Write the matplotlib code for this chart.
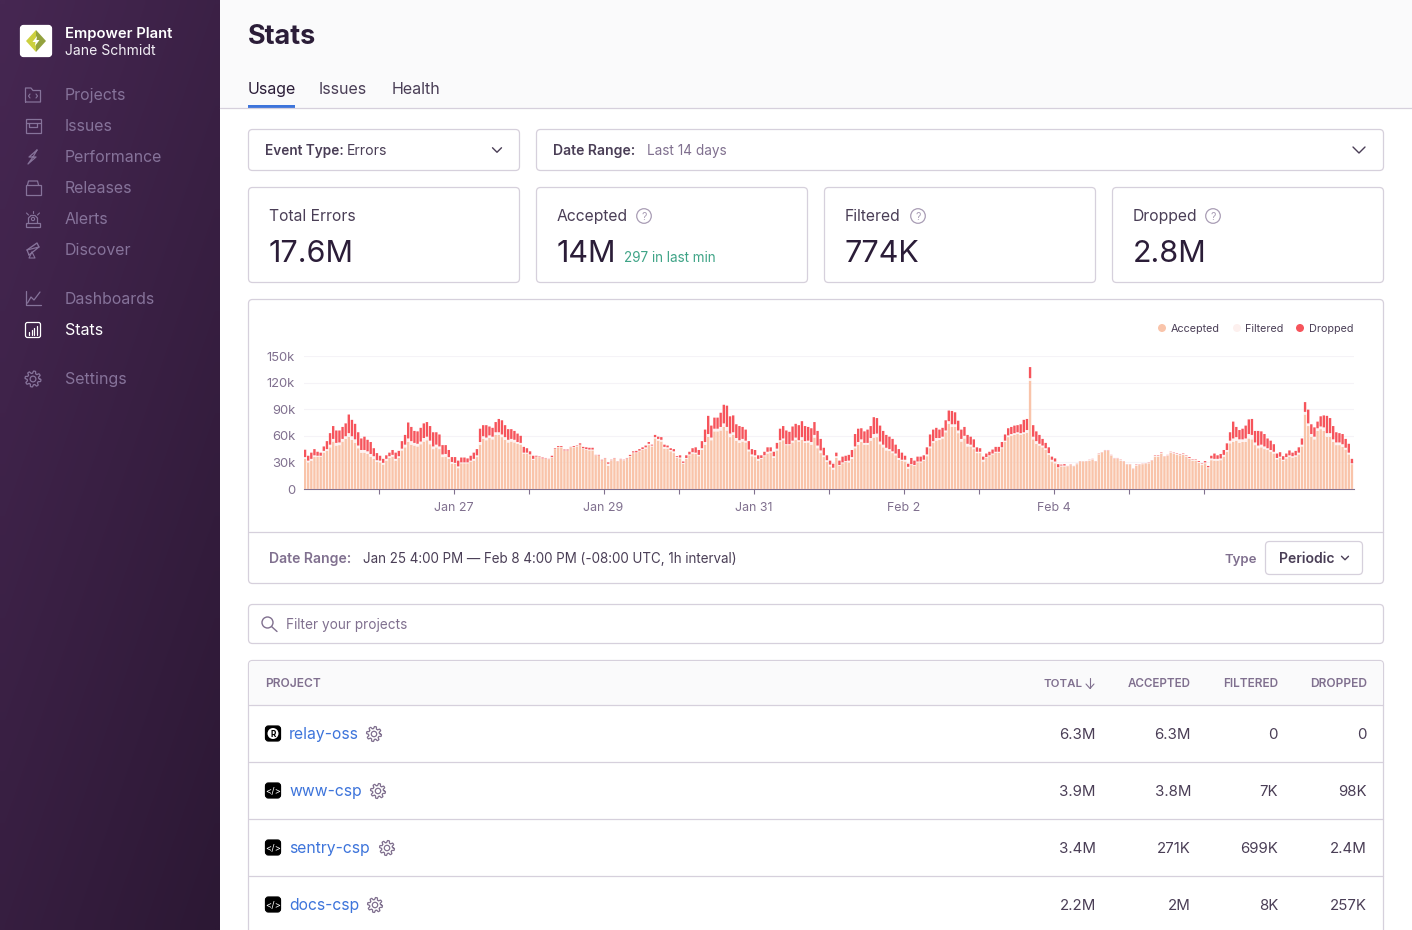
import numpy as np
import matplotlib
matplotlib.use('Agg')
from matplotlib import pyplot as plt
from matplotlib.patches import FancyBboxPatch, Rectangle, Circle, Polygon

# hourly values in thousands, one row per 24 bars
accepted = [
    34, 30, 32, 36, 36.5, 36.5, 41, 43, 47, 53.5, 49, 49.5, 53.5, 56.5, 59, 55.5, 52, 46, 41, 41, 39.5, 36.5, 34, 30.5,
    30, 27.5, 32, 35, 36.5, 32, 35, 43.5, 47, 53, 50, 49, 48, 50.5, 53.5, 55, 50.5, 45, 47, 45, 36, 36.5, 34, 28.5,
    28.5, 23.5, 29, 29, 29, 31, 32, 36, 50, 56.5, 55, 57.5, 56, 61, 61, 58.5, 55.5, 52.5, 53.5, 52.5, 51, 50, 40, 40,
    38, 33, 36, 36, 34, 34, 33.5, 35.5, 45, 47, 47, 43, 43, 47, 47, 48, 49.5, 45.5, 44, 43.5, 43.5, 38, 37.5, 32,
    34, 26, 32, 34, 31, 33, 32, 34, 36.5, 40.5, 40.5, 42.5, 44, 45.5, 49.5, 48, 57, 54.5, 53.5, 45.5, 45.5, 42.5, 40.5, 35,
    34.5, 28.5, 34, 38, 40, 39.5, 37, 44, 50, 59, 55, 65, 65, 66, 70, 66, 58.5, 61, 54.5, 52, 53.5, 52.5, 42.5, 37,
    36, 32, 34, 37, 40, 41, 35, 43.5, 53.5, 55, 49.5, 49.5, 52.5, 55.5, 53.5, 55.5, 52, 52.5, 50, 58, 46, 40.5, 36, 30.5,
    25.5, 22, 35, 26, 29, 30.5, 30, 34, 46, 50, 53, 50, 50, 54.5, 58, 58.5, 50.5, 47, 43.5, 43, 40.5, 38, 33, 32,
    31, 23, 27, 26, 30, 30, 32, 37, 46, 52, 54.5, 55.5, 57, 64, 73.5, 70, 70, 63, 53.5, 57, 48, 48, 45, 40.5,
    40.5, 31, 35, 37, 39, 41, 41, 46, 53, 58.5, 60, 61, 62, 61, 62, 63.5, 122, 56, 51, 49, 47, 44, 38.5, 31,
    29, 23.5, 25.5, 25.5, 25.5, 27, 25.5, 28, 31, 31, 31, 32, 33, 31, 39, 41, 43, 43, 37.5, 34, 34, 32, 31, 27.5,
    27.5, 22.5, 26, 27, 28, 28.5, 29, 32, 36.5, 36.5, 40, 36.5, 37.5, 41, 39.5, 38.5, 38, 38.5, 36.5, 34, 32, 32, 29.5, 27,
    29, 23.5, 32.5, 32, 32, 32.5, 36.5, 42, 51.5, 53, 54.5, 52, 53, 53, 57, 56, 49.5, 46, 47, 45, 44, 42, 40, 33.5,
    35, 31.5, 34.5, 36.5, 35.5, 36.5, 39, 48, 84, 71, 59, 56, 65.5, 67.5, 65.5, 59, 59, 53, 49.5, 49.5, 47.5, 44.5, 39, 28,
]
filtered = [
    2, 2, 2, 2, 1, 1, 2, 2, 3, 3, 3, 3, 3, 3, 4, 4, 4, 3, 3, 3, 3, 3, 3, 2,
    2, 2, 2, 2, 2, 2, 2, 2, 3, 4, 4, 3, 3, 3, 4, 4, 4, 3, 3, 3, 3, 3, 2, 2,
    1, 2, 1, 1, 1, 1, 2, 2, 3, 3, 3, 3, 3, 3, 3, 3, 3, 3, 3, 3, 2, 2, 1, 1,
    1, 1, .5, .5, .5, .5, .2, .5, .3, .5, .5, .5, .5, .2, .5, .5, .5, .5, 1, 1, 1, .2, .3, .3,
    .5, 2.5, .5, .5, .2, .5, .5, .5, .7, .7, .8, .8, 1, 1.5, 1.5, 1, 1.5, 2, 2, 2, 1.5, 1.5, 2, 1,
    1, 1, 1, 1, 1.5, 1.5, 1.5, 2, 3, 3, 3, 3, 3, 4, 4, 4, 4, 3, 3, 3, 3, 2, 2, 2,
    2, 2, 1, 1, 2, 1.5, 2, 2, 1.5, 2, 1, 1, 2, 2.5, 1.5, 3, 2, 2, 3, 3, 3, 3, 2, 2,
    2, 2, 2, 1, 1, 1, 2, 2, 2, 3, 3, 2, 2, 3, 4, 4, 3, 3, 3, 2, 2, 2, 2, 1,
    2, 2, 1, 1, 1, 1, 1, 2, 2, 2, 3, 2, 2, 2, 3, 3, 3, 3, 3, 3, 3, 2, 2, 1.5,
    1.5, 2, 1, 1, 1, 1, 1, 1, 1.5, 2, 2, 2, 2, 2, 2, 3, 3, 3, 3, 2, 2, 2, 2, 2,
    2, 1, 1, 1, .3, .7, .3, .3, .3, .1, .3, .8, .7, .3, .7, .3, .7, .7, .7, .7, .7, .7, .3, .3,
    .3, .3, 1, .7, .3, .3, .7, .3, 1, 1, 1, .3, .7, .7, 1, 1, 1, 1, 1, 1, 1, 1, 1, 1.5,
    1, 1, 2, 2, 2, 2, 2, 2, 3, 4, 4, 4, 3, 4, 5, 5, 3, 3, 3, 3, 2, 2, 2, 1.5,
    1.5, 1.5, 1.5, 1.5, 1.5, 1.5, 2, 2, 3, 3, 3, 3, 3, 3, 4, 4, 4, 3, 3, 3, 3, 2, 2, 1,
]
dropped = [
    8.3, 5.5, 7, 7, 4.5, 3.5, 5, 9, 13, 14.5, 14, 13.5, 13.5, 14.5, 21, 18.5, 17.5, 15, 13, 15, 13, 13.5, 9, 8,
    5.5, 4.5, 4, 4, 5.5, 7, 6, 8.5, 11, 18, 16, 13.5, 14, 15.5, 16.5, 16.5, 16.5, 16, 14, 13.5, 10.5, 10, 8, 5.5,
    6.5, 6.5, 5.5, 5.5, 4.5, 5.5, 7, 7, 15, 12.5, 14, 10, 10, 11.5, 15, 16, 13.5, 12, 11, 10, 9.5, 8, 6.5, 5,
    3.5, 3.5, 1, .5, 1, .5, .3, 1.5, .7, 1, 1, 1, 1, .3, 1, .5, 1.5, 1.5, 2, 2, 2, .3, .7, .7,
    .5, 1.5, .5, .5, .2, .5, .5, .5, 1.3, 1.3, 1.7, 1.7, 2, 2, 2, 1, 2.5, 2.5, 3, 2.5, 2, 2, 2.5, 1,
    2.5, 1.5, 3, 3, 4.5, 6, 5.5, 8, 14, 20.5, 13.5, 12.5, 12.5, 16, 21, 24, 19.5, 19, 15.5, 16, 13.5, 12.5, 9.5, 6,
    6, 4, 3, 4, 5, 4.5, 5, 6.5, 13, 14, 15.5, 14, 16, 15.5, 17, 18, 17, 15.5, 15.5, 14.5, 16.5, 13, 8.5, 5.5,
    4.5, 4.5, 4, 5, 6.5, 6, 6.5, 8, 14, 15, 12.5, 13, 15, 13.5, 19, 17.5, 18, 15.5, 14.5, 14, 14, 10, 10, 8,
    4.5, 3.5, 7, 5, 5.5, 5.5, 5, 8, 13.5, 13, 11.5, 9.5, 10, 11.5, 12, 15, 13.5, 11, 10.5, 10, 10, 9, 9, 5,
    4, 3.5, 4, 4, 4.5, 5.5, 5.5, 6, 7, 8, 8, 8.5, 8, 10, 14, 12.5, 12.5, 13, 11, 10, 7.5, 6, 6.5, 3.5,
    3.5, 3.5, 1, 1.5, .2, .3, .2, .2, .2, .1, .2, .2, .3, .2, .3, .2, .3, .3, .3, .3, .3, .3, .2, .2,
    .2, .2, .5, .3, .2, .2, .3, .2, .5, .5, .5, .2, .3, .3, .5, .5, .5, .5, .5, 1, .5, .5, 1, .5,
    1.5, 1.5, 3, 6, 4, 5, 5.5, 7.5, 9.5, 19, 11.5, 10.5, 12, 14.5, 16.5, 18, 13, 16.5, 15, 14, 11, 10.5, 8.5, 5,
    5, 4, 4, 5.5, 4, 5, 6, 7, 11, 15.5, 11, 10.5, 7.5, 11.5, 13.5, 19.5, 17, 15, 11.5, 10.5, 11.5, 10, 10, 5,
]

y_ticks = [0, 30, 60, 90, 120, 150]
y_labels = ['0', '30k', '60k', '90k', '120k', '150k']
x_tick_hours = [24, 48, 72, 96, 120, 144, 168, 192, 216, 240, 264, 288]
x_labels = ['', 'Jan 27', '', 'Jan 29', '', 'Jan 31', '', 'Feb 2', '', 'Feb 4', '', '']

nav_top = ['Projects', 'Issues', 'Performance', 'Releases', 'Alerts', 'Discover']
nav_top_base = [100, 131, 162, 193, 224, 255]

stat_labels = ['Total Errors', 'Accepted', 'Filtered', 'Dropped']
stat_values = ['17.6M', '14M', '774K', '2.8M']

projects = ['relay-oss', 'www-csp', 'sentry-csp', 'docs-csp']
project_total = ['6.3M', '3.9M', '3.4M', '2.2M']
project_accepted = ['6.3M', '3.8M', '271K', '2M']
project_filtered = ['0', '7K', '699K', '8K']
project_dropped = ['0', '98K', '2.4M', '257K']

DARK = '#2b1d38'
TEXT = '#4a3e56'
MUTED = '#80708f'
BORDER = '#d6d0dc'
BLUE = '#3d74db'
NAV = '#86739a'
C_ACCEPTED = '#f9c4aa'
C_FILTERED = '#fdf0ee'
C_DROPPED = '#f6545b'

plt.rcParams['font.family'] = ['Inter', 'DejaVu Sans']

W, H = 1412, 930
fig = plt.figure(figsize=(W / 100, H / 100), dpi=100, facecolor='white')
ui = fig.add_axes([0, 0, 1, 1])
ui.set_xlim(0, W)
ui.set_ylim(H, 0)
ui.axis('off')


def label(x, y, s, px, color=TEXT, weight='normal', ha='left'):
    ui.text(x, y, s, fontsize=px * 0.72, color=color, fontweight=weight, ha=ha, va='baseline')


def box(x0, y0, x1, y1, fc='white', ec=BORDER, r=4):
    ui.add_patch(FancyBboxPatch((x0, y0), x1 - x0, y1 - y0, boxstyle=f'round,pad=0,rounding_size={r}',
                                fc=fc, ec=ec, lw=0.9))


def line(xs, ys, color, lw=1.0):
    ui.plot(xs, ys, color=color, lw=lw, solid_capstyle='round', solid_joinstyle='round')


def chevron(x, y, w, color=TEXT):
    line([x - w, x, x + w], [y - w / 2, y + w / 2, y - w / 2], color, 1.0)


def gear(x, y, r, color=MUTED):
    ang = np.linspace(0, 2 * np.pi, 97)
    rad = r * (0.86 + 0.14 * np.tanh(4 * np.sin(8 * ang)))
    line(x + rad * np.cos(ang), y + rad * np.sin(ang), color, 0.9)
    ui.add_patch(Circle((x, y), r * 0.36, fc='none', ec=color, lw=0.9))


# sidebar
grad = np.zeros((93, 22, 3))
for j in range(93):
    for i in range(22):
        t = 0.6 * j / 92 + 0.4 * i / 21
        grad[j, i] = np.array([70, 39, 82]) * (1 - t) + np.array([44, 24, 52]) * t
ui.imshow(grad / 255, extent=(0, 220, H, 0), aspect='auto', interpolation='bilinear', zorder=0)
ui.set_xlim(0, W)
ui.set_ylim(H, 0)

box(20.5, 25.5, 51.5, 56.5, fc='white', ec='white', r=3)
ui.add_patch(Polygon([(36, 30), (36, 52), (26, 41)], fc='#ccd03f', ec='none'))
ui.add_patch(Polygon([(36, 30), (36, 52), (46, 41)], fc='#93a23e', ec='none'))
ui.add_patch(Polygon([(37, 36), (32.5, 42), (35.5, 42), (35, 46), (39.5, 40), (36.5, 40)], fc='white', ec='none'))
label(65, 38, 'Empower Plant', 14.8, 'white', 'semibold')
label(65, 55, 'Jane Schmidt', 14, '#f2eff5')

for name, base in zip(nav_top, nav_top_base):
    label(65, base, name, 15.9, NAV)
label(65, 304, 'Dashboards', 15.8, NAV)
label(65, 335, 'Stats', 16, 'white')
label(65, 384, 'Settings', 16, NAV)

# sidebar icons
line([25.5, 25.5, 31, 33, 40.5, 40.5, 25.5], [102, 88, 88, 90.5, 90.5, 102, 102], NAV, 0.9)
line([30, 28.5, 30], [94, 96, 98], NAV, 0.8)
line([36, 37.5, 36], [94, 96, 98], NAV, 0.8)
ui.add_patch(Rectangle((25.5, 119), 15, 14, fc='none', ec=NAV, lw=0.9))
line([25.5, 40.5], [123, 123], NAV, 0.9)
line([29, 29, 37, 37], [123, 127, 127, 123], NAV, 0.9)
line([37, 29, 33, 28, 36, 33, 37], [150, 157, 157, 164, 157, 157, 150], NAV, 0.9)
ui.add_patch(Rectangle((25.5, 185), 15, 10, fc='none', ec=NAV, lw=0.9))
line([27.5, 28.5, 37.5, 38.5], [185, 181, 181, 185], NAV, 0.9)
line([28.5, 28.5, 31, 35, 37.5, 37.5], [223, 218, 215.5, 215.5, 218, 223], NAV, 0.9)
ui.add_patch(Circle((33, 219), 1.6, fc='none', ec=NAV, lw=0.8))
ui.add_patch(Rectangle((26, 223), 14, 3.5, fc='none', ec=NAV, lw=0.9))
line([33, 33], [211, 213.5], NAV, 0.8)
line([26.5, 28.5], [213, 215], NAV, 0.8)
line([39.5, 37.5], [213, 215], NAV, 0.8)
line([27, 37, 39], [250, 243, 247], NAV, 1.0)
line([29, 39, 27, 29], [255, 247, 250, 255], NAV, 0.9)
line([32, 29, 35, 32], [252, 258, 258, 252], NAV, 0.8)
line([25.5, 25.5, 40.5], [291, 305.5, 305.5], NAV, 0.9)
line([27.5, 31, 34, 40], [303, 297, 300, 292], NAV, 0.9)
box(25.5, 322.5, 40.5, 337.5, fc='none', ec='white', r=2)
for bx, bt in zip([29, 31.5, 34, 36.5], [332, 330, 328, 326]):
    line([bx, bx], [bt, 335.5], 'white', 0.9)
gear(33, 379, 8, NAV)

# header
ui.add_patch(Rectangle((220, 0), W - 220, 108, fc='#fafafb', ec='none'))
line([220, W], [108.5, 108.5], BORDER, 0.9)
label(248, 43.5, 'Stats', 27, DARK, 'bold')
label(248, 94, 'Usage', 16, DARK)
label(319, 94, 'Issues', 16, TEXT)
label(392, 94, 'Health', 16, TEXT)
ui.add_patch(Rectangle((248, 105), 47, 4, fc=BLUE, ec='none'))

# dropdowns
box(248.5, 129.5, 519.5, 170.5)
box(536.5, 129.5, 1383.5, 170.5)
label(265, 155, 'Event Type:', 13.6, TEXT, 'semibold')
label(346.5, 155, 'Errors', 14, TEXT)
chevron(497, 150, 4.5)
label(553, 155, 'Date Range:', 14, TEXT, 'semibold')
label(647, 155, 'Last 14 days', 13.6, MUTED)
chevron(1359, 150, 6)

# stat cards
for k, (name, val) in enumerate(zip(stat_labels, stat_values)):
    x0 = 248 + 288 * k
    box(x0 + 0.5, 187.5, x0 + 271.5, 282.5)
    label(x0 + 21, 221, name, 15.7, TEXT)
    label(x0 + 21, 262, val, 30.5, DARK)
for cx in [644, 918, 1213]:
    ui.add_patch(Circle((cx, 216), 7.3, fc='none', ec='#a99db5', lw=0.9))
    ui.text(cx, 216.5, '?', fontsize=7.5, color='#a99db5', ha='center', va='center')
label(624, 262, '297 in last min', 13.5, '#3fa487')

# chart card
box(248.5, 299.5, 1383.5, 583.5)
line([249, 1383], [532, 532], BORDER, 0.9)
for cx, fc, name, tx in [(1162, C_ACCEPTED, 'Accepted', 1171), (1237, C_FILTERED, 'Filtered', 1245),
                         (1300, C_DROPPED, 'Dropped', 1309)]:
    ui.add_patch(Circle((cx, 328), 4, fc=fc, ec='none'))
    label(tx, 332, name, 10.8, TEXT)
label(269, 563, 'Date Range:', 14, MUTED, 'semibold')
label(363, 563, 'Jan 25 4:00 PM — Feb 8 4:00 PM (-08:00 UTC, 1h interval)', 13.4, TEXT)
label(1257, 563, 'Type', 13.2, MUTED, 'semibold', 'right')
box(1265.5, 541.5, 1362.5, 574.5)
label(1279, 563, 'Periodic', 14, TEXT, 'semibold')
chevron(1345, 558, 3.5)

# filter box
box(248.5, 604.5, 1383.5, 643.5)
ui.add_patch(Circle((267.5, 622.5), 5.5, fc='none', ec=MUTED, lw=1.0))
line([271.5, 277], [626.5, 631.5], MUTED, 1.0)
label(286, 629, 'Filter your projects', 13.6, MUTED)

# table
box(248.5, 660.5, 1383.5, 960, fc='white')
ui.add_patch(FancyBboxPatch((249, 661), 1134, 44, boxstyle='round,pad=0,rounding_size=4', fc='#fafafb', ec='none'))
label(265, 687, 'PROJECT', 12, MUTED, 'semibold')
label(1082, 687, 'TOTAL', 11.5, MUTED, 'semibold', 'right')
line([1090, 1090], [678, 688], MUTED, 0.8)
line([1086, 1090, 1094], [684, 688.5, 684], MUTED, 0.8)
label(1191, 687, 'ACCEPTED', 11.6, MUTED, 'semibold', 'right')
label(1278, 687, 'FILTERED', 11.8, MUTED, 'semibold', 'right')
label(1367, 687, 'DROPPED', 12, MUTED, 'semibold', 'right')
gear_x = [374, 378, 387, 375]
for k, name in enumerate(projects):
    base = 739 + 57 * k
    line([249, 1383], [705 + 57 * k, 705 + 57 * k], BORDER, 0.9)
    box(265.5, base - 13, 280.5, base + 2, fc='black', ec='black', r=3)
    if k == 0:
        ui.add_patch(Circle((273, base - 5.5), 5.5, fc='white', ec='none'))
        ui.text(273, base - 5, 'R', fontsize=6, color='black', ha='center', va='center', fontweight='bold')
    else:
        ui.text(273, base - 5, '</>', fontsize=6.8, color='white', ha='center', va='center')
    label(289, base, name, 15.7, BLUE)
    gear(gear_x[k], base - 5, 7.5)
    label(1096, base, project_total[k], 15, TEXT, ha='right')
    label(1191, base, project_accepted[k], 15, TEXT, ha='right')
    label(1278, base, project_filtered[k], 15, TEXT, ha='right')
    label(1367, base, project_dropped[k], 15, TEXT, ha='right')

# the chart itself
ax = fig.add_axes([303.5 / W, 1 - 489 / H, 1050 / W, 133 / H], facecolor='none')
acc = np.array(accepted)
fil = np.array(filtered)
dro = np.array(dropped)
hours = np.arange(len(acc)) + 0.5
for bars in [ax.bar(hours, acc, width=0.76, color=C_ACCEPTED, linewidth=0, zorder=3),
             ax.bar(hours, fil, width=0.76, bottom=acc, color=C_FILTERED, linewidth=0, zorder=3),
             ax.bar(hours, dro, width=0.76, bottom=acc + fil, color=C_DROPPED, linewidth=0, zorder=3)]:
    for b in bars:
        b.set_snap(False)
ax.set_xlim(0, 336)
ax.set_ylim(0, 150)
ax.set_yticks(y_ticks)
ax.set_yticklabels(y_labels, fontsize=13 * 0.72, color=MUTED)
ax.set_xticks(x_tick_hours)
ax.set_xticklabels(x_labels, fontsize=12.4 * 0.72, color=MUTED)
ax.tick_params(axis='y', length=0, pad=6)
ax.tick_params(axis='x', length=3.6, width=0.8, color=MUTED, pad=6)
ax.grid(axis='y', color='#f5f3f7', lw=0.8, zorder=0)
ax.set_axisbelow(True)
for side in ['top', 'left', 'right']:
    ax.spines[side].set_visible(False)
ax.spines['bottom'].set_color(MUTED)
ax.spines['bottom'].set_linewidth(0.8)

fig.savefig('out.png', dpi=100)
